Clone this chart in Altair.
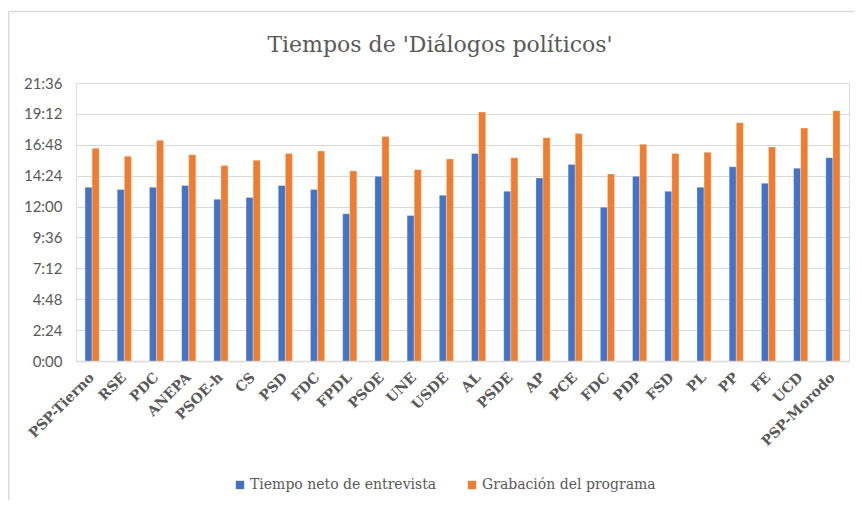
import json
import altair as alt
import pandas as pd

parties = ["PSP-Tierno", "RSE", "PDC", "ANEPA", "PSOE-h", "CS", "PSD", "FDC",
           "FPDL", "PSOE", "UNE", "USDE", "AL", "PSDE", "AP", "PCE", "FDC",
           "PDP", "FSD", "PL", "PP", "FE", "UCD", "PSP-Morodo"]
neto = ["13:30", "13:19", "13:30", "13:38", "12:34", "12:42", "13:38", "13:19",
        "11:26", "14:21", "11:18", "12:53", "16:07", "13:11", "14:13", "15:16",
        "11:57", "14:21", "13:11", "13:30", "15:05", "13:49", "14:59", "15:48"]
grabacion = ["16:32", "15:54", "17:09", "16:02", "15:11", "15:36", "16:07", "16:19",
             "14:46", "17:27", "14:52", "15:42", "19:21", "15:48", "17:21", "17:40",
             "14:32", "16:50", "16:07", "16:13", "18:31", "16:38", "18:06", "19:27"]
series = ["Tiempo neto de entrevista", "Grabación del programa"]
colors = ["#4472C4", "#ED7D31"]
y_ticks = [0, 144, 288, 432, 576, 720, 864, 1008, 1152, 1296]

SERIF = "DejaVu Serif"


def secs(s):
    m, sec = s.split(":")
    return int(m) * 60 + int(sec)


rows = []
for i, p in enumerate(parties):
    rows.append({"idx": i, "serie": series[0], "ord": 0, "t": secs(neto[i])})
    rows.append({"idx": i, "serie": series[1], "ord": 1, "t": secs(grabacion[i])})
df = pd.DataFrame(rows)

W, H = 773, 278
label_expr = json.dumps(parties) + "[datum.value]"
y_label_expr = "floor(datum.value/60) + ':' + (datum.value % 60 < 10 ? '0' : '') + (datum.value % 60)"

bars = alt.Chart(df).mark_bar(stroke="white", strokeWidth=0.5, strokeOpacity=0.6).encode(
    x=alt.X("idx:O", title=None,
            scale=alt.Scale(paddingInner=0.56, paddingOuter=0.28),
            axis=alt.Axis(labelExpr=label_expr, labelAngle=-45, labelAlign="right",
                          labelBaseline="middle", labelFont=SERIF,
                          labelFontWeight="bold", labelFontSize=14, labelColor="#595959",
                          ticks=False, labelPadding=14, domainColor="#d9d9d9",
                          domainWidth=1.5)),
    xOffset=alt.XOffset("ord:O"),
    y=alt.Y("t:Q", title=None,
            scale=alt.Scale(domain=[0, 1296], nice=False),
            axis=alt.Axis(values=y_ticks, labelExpr=y_label_expr, labelFont="Lato",
                          labelFontSize=15, labelColor="#595959", ticks=False,
                          domain=False, labelPadding=14, gridColor="#d9d9d9",
                          gridWidth=1.2)),
    color=alt.Color("serie:N", sort=series,
                    scale=alt.Scale(domain=series, range=colors),
                    legend=alt.Legend(title=None, orient="none", legendX=157, legendY=395,
                                      direction="horizontal", symbolType="square",
                                      symbolSize=70, symbolStrokeWidth=0,
                                      labelFont=SERIF, labelFontSize=14, labelLimit=0,
                                      labelColor="#595959", columnPadding=28,
                                      labelOffset=3)),
)

title = alt.Chart(pd.DataFrame({"t": ["Tiempos de 'Diálogos políticos'"]})).mark_text(
    font=SERIF, fontSize=22, color="#595959", align="center", baseline="alphabetic"
).encode(text="t:N", x=alt.value(364), y=alt.value(-31))

border_left = alt.Chart(pd.DataFrame({"a": [0]})).mark_rule(color="#d9d9d9", strokeWidth=1.5).encode(
    x=alt.value(-67.3), y=alt.value(-71.5), y2=alt.value(420))
border_top = alt.Chart(pd.DataFrame({"a": [0]})).mark_rule(color="#d9d9d9", strokeWidth=1.5).encode(
    x=alt.value(-67.3), x2=alt.value(790), y=alt.value(-71.5))

chart = alt.layer(border_left, border_top, bars, title).properties(
    width=W, height=H,
    padding={"left": 68, "top": 75, "right": 5, "bottom": 139},
    autosize=alt.AutoSizeParams(type="none"),
).configure_view(stroke=None).configure(background="white")

chart.save("out.html", embed_options={"renderer": "svg", "actions": False})
